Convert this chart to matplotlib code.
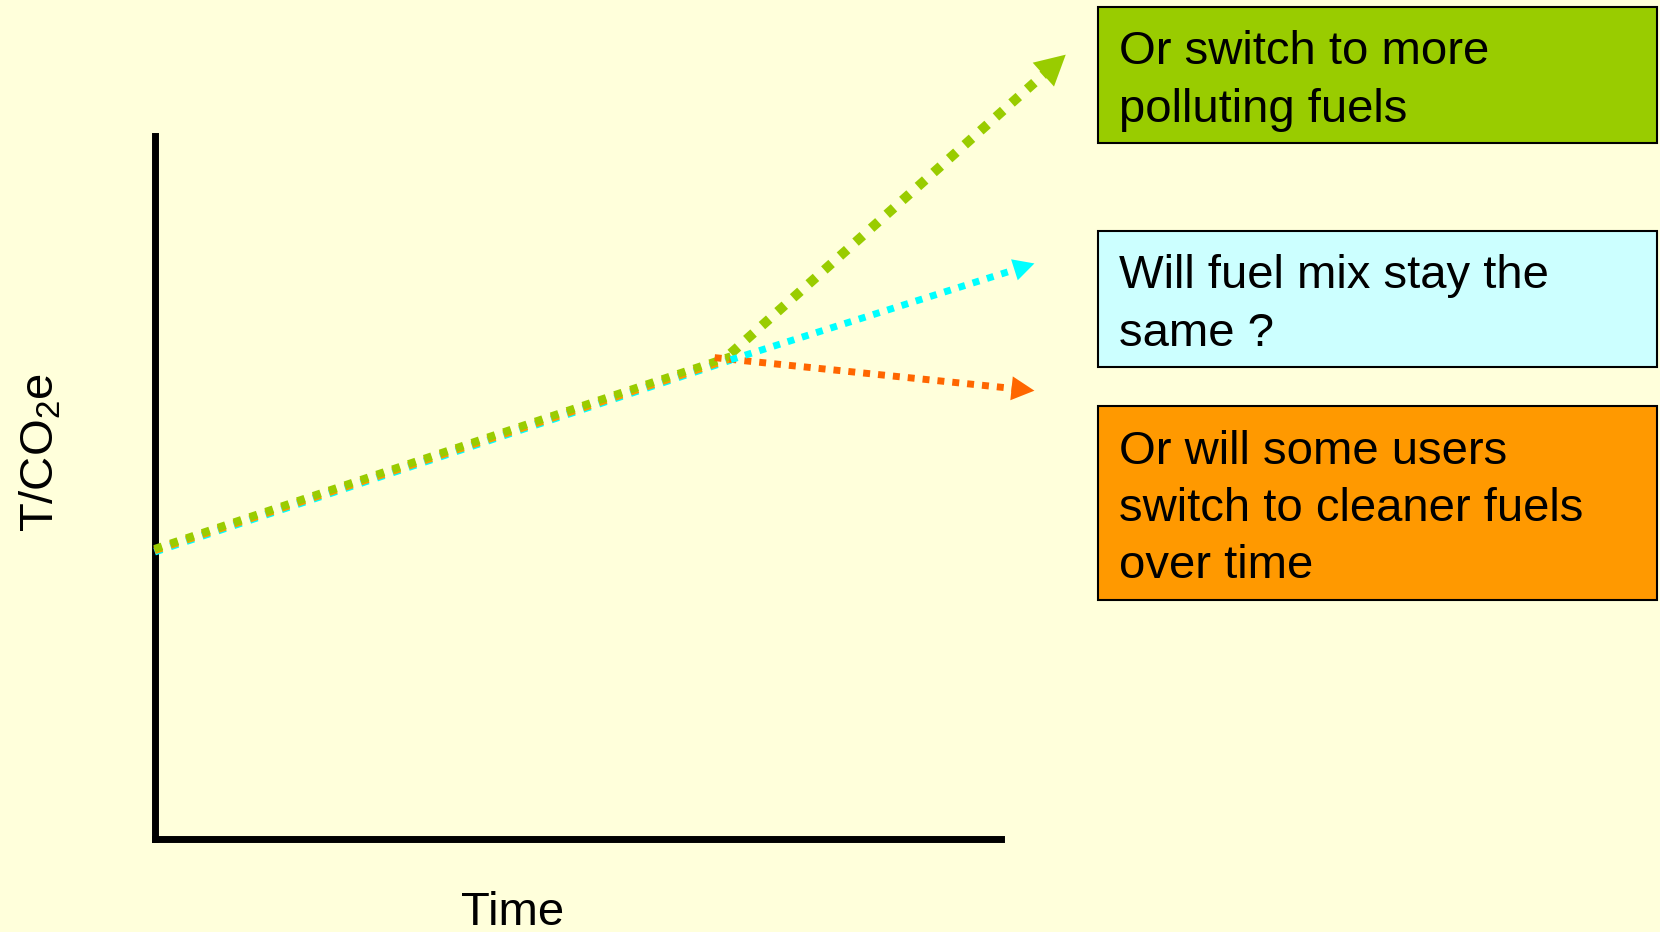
import matplotlib
matplotlib.use("Agg")
import matplotlib.pyplot as plt
from matplotlib.patches import Rectangle, Polygon
import numpy as np

plt.rcParams["font.family"] = ["Liberation Sans", "DejaVu Sans"]
plt.rcParams["mathtext.fontset"] = "custom"
plt.rcParams["mathtext.rm"] = "Liberation Sans"
plt.rcParams["mathtext.it"] = "Liberation Sans"

BG = "#FFFFDB"

# ---- data (arbitrary units: time on x, emissions on y) ----
scenarios = ["Or switch to more\npolluting fuels",
             "Will fuel mix stay the\nsame ?",
             "Or will some users\nswitch to cleaner fuels\nover time"]
line_colors = ["#99CC00", "#00FFFF", "#FF6600"]
trunk_colors = ["#99CC00", "#00FFFF", "#FF9900"]
box_colors = ["#99CC00", "#CCFFFF", "#FF9900"]

# common history: start -> today
trunk_time = [0.0, 6.81]
trunk_level = [[4.12, 6.86],   # more polluting
               [4.08, 6.81],   # same mix
               [4.10, 6.83]]   # cleaner

# projections: from branch point to end
branch_time = [6.81, 6.81, 6.62]
branch_level = [6.90, 6.81, 6.84]
end_time = [10.77, 10.40, 10.40]
end_level = [11.15, 8.18, 6.37]

# ---- figure ----
W, H = 1660, 932
fig = plt.figure(figsize=(W / 100, H / 100), dpi=100, facecolor=BG)
ax = fig.add_axes([154.6 / W, 1 - 838.5 / H, 846 / W, 703 / H])
ax.set_facecolor(BG)
ax.set_xlim(0, 10)
ax.set_ylim(0, 10)
ax.set_xticks([])
ax.set_yticks([])
for s in ["top", "right"]:
    ax.spines[s].set_visible(False)
for s in ["left", "bottom"]:
    ax.spines[s].set_linewidth(5)
    ax.spines[s].set_color("black")
    ax.spines[s].set_capstyle("projecting")

dots = (0, (1.0, 1.15))

# historical trend (drawn so the green line sits on top)
for i in [1, 2, 0]:
    ax.plot(trunk_time, trunk_level[i], color=trunk_colors[i], lw=5.6,
            linestyle=dots, dash_capstyle="butt", clip_on=False, zorder=3)

head_len = [30, 21, 23]
head_half = [16, 11, 12]
branch_lw = [7, 5, 5]


def head(p0, p1, hl, hw, color):
    P0 = ax.transData.transform(p0)
    P1 = ax.transData.transform(p1)
    d = (P1 - P0) / np.hypot(*(P1 - P0))
    n = np.array([-d[1], d[0]])
    base = P1 - d * hl
    tri = np.array([P1, base + n * hw, base - n * hw])
    inv = ax.transData.inverted()
    ax.add_patch(Polygon(inv.transform(tri), closed=True, facecolor=color,
                         edgecolor="none", clip_on=False, zorder=5))
    return inv.transform(base + d * 1.0)


for i in [2, 0, 1]:
    p0 = (branch_time[i], branch_level[i])
    p1 = (end_time[i], end_level[i])
    b = head(p0, p1, head_len[i], head_half[i], line_colors[i])
    ax.plot([p0[0], b[0]], [p0[1], b[1]], color=line_colors[i],
            lw=branch_lw[i], linestyle=dots, dash_capstyle="butt",
            clip_on=False, zorder=4)

# ---- axis labels ----
fig.text(41 / W, 1 - 452 / H, r"T/CO$_2$e", rotation=90, ha="center",
         va="center", fontsize=34)
fig.text(513 / W, 1 - 913 / H, "Time", ha="center", va="center", fontsize=34)

# ---- scenario boxes ----
box_top = [7, 231, 406]
box_bot = [143, 367, 600]
for i, txt in enumerate(scenarios):
    x0, x1 = 1098, 1657
    y0, y1 = box_top[i], box_bot[i]
    fig.add_artist(Rectangle((x0 / W, 1 - y1 / H), (x1 - x0) / W,
                             (y1 - y0) / H, transform=fig.transFigure,
                             facecolor=box_colors[i], edgecolor="black",
                             lw=1.5))
    fig.text(1119 / W, 1 - ((y0 + y1) / 2 + 6) / H, txt, ha="left",
             va="center", fontsize=34, linespacing=1.39)

fig.savefig("out.png", dpi=100, facecolor=BG)
